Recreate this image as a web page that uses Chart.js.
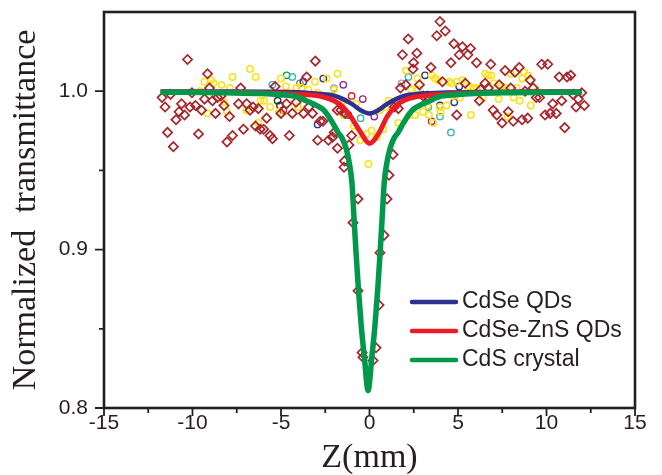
<!DOCTYPE html>
<html>
<head>
<meta charset="utf-8">
<script src="https://cdn.jsdelivr.net/npm/chart.js@4.4.0/dist/chart.umd.min.js"></script>
<style>
  html, body { margin: 0; padding: 0; background: #fff; }
</style>
</head>
<body>
<canvas id="zscanChart" width="662" height="475"></canvas>
<script>
// Open-aperture Z-scan: fitted curves
const crystalZ = [-11.8, -8.08, -6.08, -5.08, -4.08, -3.58, -3.08, -2.58, -2.08, -1.78, -1.53, -1.30, -1.13, -0.99, -0.88, -0.76, -0.62, -0.46, -0.29, -0.08,
                  0.13, 0.30, 0.46, 0.60, 0.72, 0.83, 0.97, 1.14, 1.37, 1.62, 1.92, 2.42, 2.92, 3.42, 3.92, 4.92, 5.92, 7.92, 12.0];
const crystalFit = [0.9994, 0.999, 0.9985, 0.9978, 0.9965, 0.994, 0.9915, 0.988, 0.980, 0.974, 0.970, 0.963, 0.954, 0.942, 0.921, 0.898, 0.874, 0.851, 0.832, 0.811,
                    0.832, 0.851, 0.874, 0.898, 0.921, 0.942, 0.954, 0.963, 0.970, 0.974, 0.980, 0.988, 0.9915, 0.994, 0.9965, 0.9978, 0.9985, 0.999, 0.9994];

const qdZ = [-11.8, -8, -6, -4, -3, -2.5, -2, -1.5, -1, -0.5, 0, 0.5, 1, 1.5, 2, 2.5, 3, 4, 6, 8, 12];
const cdseFit = [0.9998, 0.9998, 0.9997, 0.9993, 0.9985, 0.998, 0.9972, 0.995, 0.992, 0.988, 0.986, 0.988, 0.992, 0.995, 0.9972, 0.998, 0.9985, 0.999, 0.9995, 0.9997, 0.9998];
const cdseZnsFit = [0.9995, 0.9994, 0.999, 0.998, 0.9972, 0.996, 0.994, 0.990, 0.983, 0.974, 0.967, 0.973, 0.984, 0.991, 0.9945, 0.9962, 0.997, 0.998, 0.999, 0.9994, 0.9996];

// measured points, CdS crystal (diamonds)
const crystalScanZ = [-11.72, -11.55, -11.24, -10.93, -10.76, -10.62, -10.45, -10.28, -10.14, -10.03,
  -9.83, -9.66, -9.49, -9.32, -9.15, -9.04, -8.87, -8.70, -8.59, -8.39,
  -8.22, -7.91, -8.05, -7.74, -11.41, -11.08, -7.40, -7.28, -7.12, -6.94,
  -6.75, -6.58, -6.28, -6.44, -6.18, -5.98, -5.81, -5.62, -5.48, -5.33,
  -5.00, -4.69, -4.53, -4.36, -4.15, -3.73, -3.55, -3.43, -3.22, -3.06,
  -2.93, -2.78, -2.63, -2.32, -2.09, -1.99, -1.82, -1.81, -1.61, -1.38,
  -1.01, -1.16, -1.41, -1.44, -0.65, -0.93, -0.65, -0.42, -0.37, 0.20,
  0.37, 0.54, 0.59, 0.82, 0.99, 1.10, 1.33, 1.40, 1.63, 1.75,
  1.86, 2.19, 2.49, 2.46, 2.68, 2.05, 2.82, 3.04, 3.28, 3.47,
  3.80, 3.98, 4.28, 4.12, 4.60, 4.77, 5.25, 5.71, 5.07, 5.56,
  6.05, 6.85, 4.93, 5.41, 6.53, 6.28, 6.71, 7.33, 7.98, 6.21,
  6.99, 7.19, 7.66, 8.22, 8.46, 9.08, 7.84, 7.49, 8.12, 8.62,
  8.94, 9.25, 8.79, 9.42, 9.61, 9.73, 10.07, 10.72, 11.16, 11.37,
  9.92, 10.21, 10.55, 10.35, 10.86, 11.03, 11.50, 11.99, 11.80, 11.67,
  12.14];
const crystalScanT = [0.996, 0.990, 0.998, 0.982, 0.987, 0.992, 0.985, 1.020, 0.990, 0.999,
  0.991, 0.973, 0.988, 0.995, 1.011, 1.002, 0.994, 0.986, 0.996, 0.997,
  0.991, 0.984, 0.968, 0.972, 0.974, 0.965, 0.992, 1.002, 0.976, 0.992,
  0.988, 0.990, 0.989, 0.978, 0.976, 0.976, 0.983, 0.972, 0.970, 1.003,
  0.986, 0.992, 0.972, 0.986, 0.993, 0.986, 1.009, 0.990, 0.986, 1.019,
  0.969, 0.981, 0.981, 0.969, 0.971, 0.974, 0.988, 0.964, 0.988, 0.986,
  0.972, 0.966, 0.956, 0.952, 0.932, 0.917, 0.874, 0.835, 0.832, 0.830,
  0.838, 0.865, 0.898, 0.909, 0.932, 0.947, 0.960, 0.990, 0.989, 1.002,
  1.023, 1.033, 1.018, 1.014, 1.024, 1.004, 1.004, 0.997, 0.997, 1.015,
  1.035, 1.044, 1.038, 1.006, 1.018, 1.030, 1.028, 1.027, 1.023, 1.023,
  1.018, 1.017, 0.985, 1.005, 1.005, 1.001, 1.002, 1.004, 1.002, 0.994,
  0.988, 0.985, 1.013, 1.012, 1.015, 1.007, 0.987, 0.980, 0.981, 0.982,
  0.983, 1.002, 1.000, 0.996, 0.996, 1.017, 1.017, 1.009, 1.009, 1.010,
  0.985, 0.986, 0.986, 0.992, 0.994, 0.977, 0.998, 0.999, 0.995, 0.990,
  0.991];

// measured points, CdSe-ZnS QDs (yellow circles)
const shellScanZ = [-9.58, -9.32, -8.95, -8.82, -8.36, -7.88, -7.74, -9.15, -8.06, -8.22,
  -6.75, -6.43, -6.95, -6.28, -6.15, -5.96, -5.62, -5.11, -5.00, -4.72,
  -4.12, -4.04, -3.84, -3.45, -3.08, -2.94, -2.42, -1.99, -1.81, -1.47,
  -1.44, -0.88, -0.76, -0.52, -0.16, 0.12, 0.41, 0.78, -0.06, 0.59,
  0.88, 1.08, 1.63, 2.06, 2.34, 2.25, 2.57, 2.71, 2.74, 3.01,
  3.27, 3.36, 3.51, 3.70, 3.89, 4.01, 3.98, 4.35, 4.49, 4.64,
  4.93, 4.73, 5.11, 5.25, 5.62, 5.86, 5.73, 6.06, 6.40, 6.54,
  6.71, 6.89, 7.03, 7.30, 7.47, 7.71, 7.81, 7.98, 8.14, 8.32,
  8.48, 8.63, 8.73, 8.97, 9.11, 9.45, 3.60];
const shellScanT = [1.000, 1.006, 1.007, 1.005, 1.004, 1.002, 1.009, 0.986, 0.987, 0.993,
  1.014, 1.009, 0.988, 0.980, 0.994, 0.994, 0.990, 0.987, 1.008, 1.003,
  1.002, 0.990, 1.002, 1.001, 1.006, 0.999, 1.008, 1.001, 1.011, 0.985,
  0.994, 0.978, 0.992, 0.969, 0.973, 0.975, 0.971, 0.976, 0.954, 0.988,
  0.990, 0.994, 0.980, 1.013, 1.001, 0.985, 0.985, 1.008, 1.001, 0.987,
  0.991, 0.985, 1.010, 1.008, 1.007, 0.987, 0.990, 0.991, 1.006, 1.005,
  1.006, 0.997, 0.996, 1.007, 1.003, 1.002, 0.985, 1.002, 0.996, 1.011,
  1.010, 1.010, 1.005, 0.995, 1.003, 1.002, 0.984, 1.011, 0.996, 1.002,
  0.994, 1.008, 1.012, 1.010, 0.991, 1.000, 0.980];

// other repeated runs (few scattered circles)
const runBlueZ = [-3.74, -2.61, 3.14, 3.98, 4.79, 5.07, -2.93];
const runBlueT = [1.006, 1.008, 1.010, 0.991, 0.993, 1.003, 0.979];
const runCyanZ = [-5.49, -4.36, -0.50, 2.20, 3.32, 3.98, 4.60];
const runCyanT = [1.004, 1.009, 0.983, 1.009, 0.990, 0.984, 0.974];
const runGreenZ = [-4.68];
const runGreenT = [1.010];
const runPurpleZ = [-1.48, -0.38, 0.27, 3.51];
const runPurpleT = [1.004, 0.995, 0.984, 0.981];
const runBlackZ = [-5.19, -5.06, -1.20];
const runBlackT = [0.994, 0.991, 0.985];
const runGrayZ = [-2.01, 1.81];
const runGrayT = [1.002, 1.005];
const runOliveZ = [-3.93];
const runOliveT = [1.005];
const runRedZ = [-4.87, -1.01];
const runRedT = [0.988, 0.997];

const xTickStep = 2.5;
const yTickStep = 0.05;

const pts = (zs, ts) => zs.map((z, i) => ({ x: z, y: ts[i] }));
const isMajor = (v, step) => Math.abs(v / step - Math.round(v / step)) < 1e-6;

const inkColor = '#231f20';

function fitLine(label, zs, ts, color, width) {
    return {
        type: 'line', label: label, data: pts(zs, ts),
        borderColor: color, backgroundColor: color, borderWidth: width,
        pointRadius: 0, cubicInterpolationMode: 'monotone', fill: false
    };
}

function scatterSet(label, zs, ts, color, style, radius, width) {
    return {
        type: 'scatter', label: label, data: pts(zs, ts),
        pointStyle: style, pointRadius: radius, pointBorderWidth: width,
        pointBorderColor: color, pointBackgroundColor: 'rgba(0,0,0,0)', showLine: false
    };
}

// frame around the plot plus outward major/minor ticks
const frameTicks = {
    id: 'frameTicks',
    afterDraw(chart) {
        const { ctx, chartArea: a, scales: { x, y } } = chart;
        ctx.save();
        ctx.strokeStyle = inkColor;
        ctx.lineWidth = 1.8;
        ctx.beginPath();
        x.ticks.forEach(t => {
            const px = x.getPixelForValue(t.value);
            const len = isMajor(t.value, 5) ? 8 : 5;
            ctx.moveTo(px, a.bottom);
            ctx.lineTo(px, a.bottom + len);
        });
        y.ticks.forEach(t => {
            if (t.value >= y.max - 1e-9) return;
            const py = y.getPixelForValue(t.value);
            const len = isMajor(t.value, 0.1) ? 9 : 5;
            ctx.moveTo(a.left, py);
            ctx.lineTo(a.left - len, py);
        });
        ctx.stroke();
        ctx.lineWidth = 2.6;
        ctx.strokeRect(a.left, a.top, a.right - a.left, a.bottom - a.top);
        ctx.restore();
    }
};

// legend placed inside the plot, lower right
const insideLegend = {
    id: 'insideLegend',
    afterDraw(chart, args, opts) {
        const { ctx } = chart;
        ctx.save();
        ctx.font = '23px "Liberation Sans", Arial, sans-serif';
        ctx.textBaseline = 'middle';
        ctx.fillStyle = inkColor;
        opts.order.forEach((idx, row) => {
            const ds = chart.data.datasets[idx];
            const yy = opts.top + row * opts.rowGap;
            ctx.strokeStyle = ds.borderColor;
            ctx.lineWidth = 4.5;
            ctx.lineCap = 'round';
            ctx.beginPath();
            ctx.moveTo(opts.left, yy);
            ctx.lineTo(opts.left + opts.lineLen, yy);
            ctx.stroke();
            ctx.fillText(ds.label, opts.left + opts.lineLen + 6, yy);
        });
        ctx.restore();
    }
};

const ctx = document.getElementById('zscanChart');
new Chart(ctx, {
    data: {
        datasets: [
            fitLine('CdS crystal', crystalZ, crystalFit, '#00994c', 5.5),
            fitLine('CdSe-ZnS QDs', qdZ, cdseZnsFit, '#ed1c24', 5),
            fitLine('CdSe QDs', qdZ, cdseFit, '#2e3192', 4.5),
            scatterSet('CdS crystal data', crystalScanZ, crystalScanT, '#a6262c', 'rectRot', 4.6, 1.7),
            scatterSet('CdSe-ZnS data', shellScanZ, shellScanT, '#fbe216', 'circle', 3.2, 1.5),
            scatterSet('run b', runBlueZ, runBlueT, '#2e3192', 'circle', 3.2, 1.4),
            scatterSet('run c', runCyanZ, runCyanT, '#3fb5ad', 'circle', 3.2, 1.4),
            scatterSet('run g', runGreenZ, runGreenT, '#00a651', 'circle', 3.2, 1.4),
            scatterSet('run p', runPurpleZ, runPurpleT, '#92278f', 'circle', 3.2, 1.4),
            scatterSet('run k', runBlackZ, runBlackT, '#333333', 'circle', 3.2, 1.4),
            scatterSet('run s', runGrayZ, runGrayT, '#a0a0a0', 'circle', 3.2, 1.4),
            scatterSet('run o', runOliveZ, runOliveT, '#8c8a3a', 'circle', 3.2, 1.4),
            scatterSet('run r', runRedZ, runRedT, '#ed1c24', 'circle', 3.2, 1.4)
        ]
    },
    options: {
        responsive: false,
        animation: false,
        events: [],
        layout: { padding: { top: 12, right: 27, left: 0, bottom: 0 } },
        plugins: {
            legend: { display: false },
            tooltip: { enabled: false },
            insideLegend: { order: [2, 1, 0], left: 412, lineLen: 44, top: 302, rowGap: 29 }
        },
        scales: {
            x: {
                type: 'linear', min: -15, max: 15,
                grid: { display: false, drawTicks: false },
                border: { display: false },
                ticks: {
                    stepSize: xTickStep, autoSkip: false, maxRotation: 0, padding: 3,
                    color: inkColor,
                    font: { family: '"Liberation Sans", Arial, sans-serif', size: 21 },
                    callback: v => isMajor(v, 5) ? String(v) : ''
                },
                title: {
                    display: true, text: 'Z(mm)', color: inkColor,
                    font: { family: '"Liberation Serif", "Times New Roman", serif', size: 34, lineHeight: 1 },
                    padding: 0
                },
                afterFit(scale) {
                    scale.height = 67;
                    scale.paddingLeft = 0;
                    scale.paddingRight = 0;
                }
            },
            y: {
                type: 'linear', min: 0.8, max: 1.05,
                grid: { display: false, drawTicks: false },
                border: { display: false },
                ticks: {
                    stepSize: yTickStep, autoSkip: false, padding: 16,
                    color: inkColor,
                    font: { family: '"Liberation Sans", Arial, sans-serif', size: 21 },
                    callback: v => (isMajor(v, 0.1) && v < 1.04) ? v.toFixed(1) : ''
                },
                title: {
                    display: true, text: 'Normalized  transmittance', color: inkColor,
                    font: { family: '"Liberation Serif", "Times New Roman", serif', size: 34, lineHeight: 1 },
                    padding: { top: 9, bottom: 0 }
                },
                afterFit(scale) {
                    scale.width = 104;
                    scale.paddingTop = 0;
                    scale.paddingBottom = 0;
                }
            }
        }
    },
    plugins: [frameTicks, insideLegend]
});
</script>
</body>
</html>
